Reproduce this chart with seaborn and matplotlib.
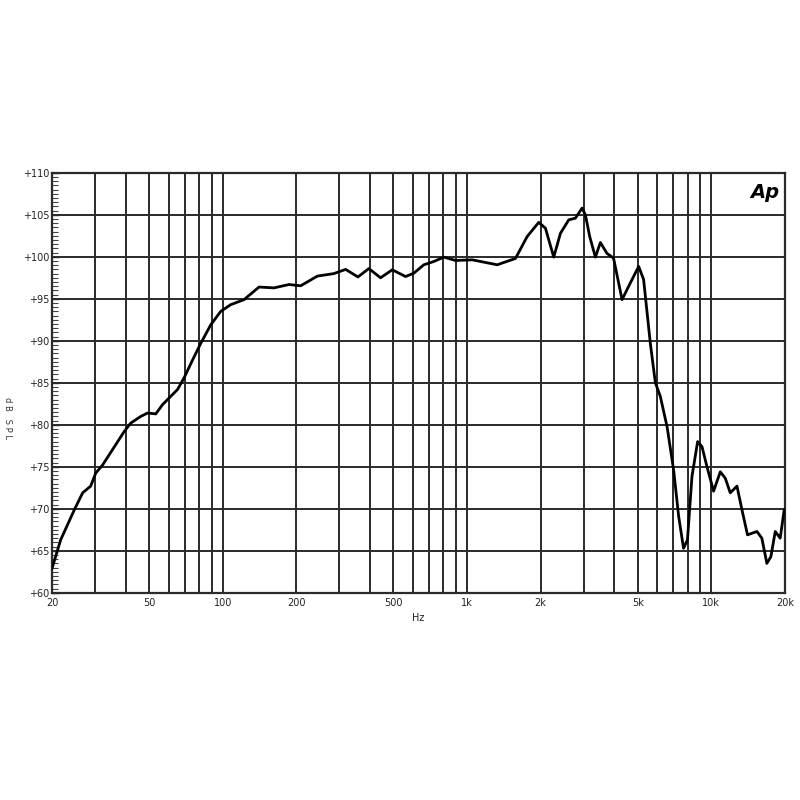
import numpy as np
import pandas as pd
import seaborn as sns
import matplotlib
matplotlib.use("Agg")
import matplotlib.pyplot as plt
from matplotlib.ticker import FixedLocator, MultipleLocator, NullFormatter

# Frequency response data
freq_hz = [20, 21.7, 24.7, 26.7, 28.8, 30.2, 32.2, 39.5, 42.0, 46.2, 49.2, 53.2,
           56.7, 61.3, 65.3, 69.5, 75.2, 81.3, 89.3, 98.1, 107.8, 122.2, 140.8,
           162.2, 186.7, 208.5, 243.8, 285, 318.6, 357.6, 396.5, 442.6, 494.2,
           560.6, 605.7, 665.7, 731.4, 803.8, 897.5, 1050, 1329, 1579, 1762,
           1966, 2095, 2265, 2413, 2610, 2779, 2958, 3052, 3180, 3354, 3516,
           3742, 3980, 4313, 4665, 5045, 5284, 5630, 5903, 6184, 6590, 7015,
           7353, 7700, 7990, 8336, 8794, 9162, 9606, 10220, 10890, 11410, 11960,
           12740, 13350, 14070, 15380, 16110, 16890, 17540, 18280, 19150, 19890]
spl_db = [62.9, 66.3, 69.9, 71.9, 72.7, 74.25, 75.2, 79.2, 80.2, 81.0, 81.4, 81.3,
          82.4, 83.4, 84.2, 85.6, 87.7, 89.7, 91.9, 93.5, 94.3, 94.9, 96.4,
          96.3, 96.7, 96.55, 97.7, 98.0, 98.5, 97.6, 98.6, 97.5, 98.45,
          97.65, 98.05, 99.05, 99.44, 99.96, 99.56, 99.64, 99.05, 99.8, 102.4,
          104.1, 103.4, 99.96, 102.8, 104.4, 104.6, 105.8, 105.0, 102.4, 99.96, 101.7,
          100.4, 99.85, 94.9, 96.9, 98.85, 97.3, 89.7, 85.0, 83.4, 79.8, 74.6,
          69.1, 65.3, 66.3, 73.85, 78.0, 77.4, 75.0, 72.1, 74.4, 73.65, 71.9,
          72.7, 69.9, 66.9, 67.3, 66.5, 63.5, 64.3, 67.3, 66.5, 69.9]

x_grid = [20, 30, 40, 50, 60, 70, 80, 90, 100, 200, 300, 400, 500, 600, 700, 800,
          900, 1000, 2000, 3000, 4000, 5000, 6000, 7000, 8000, 9000, 10000, 20000]
x_label_pos = [20, 50, 100, 200, 500, 1000, 2000, 5000, 10000, 20000]
x_label_txt = ["20", "50", "100", "200", "500", "1k", "2k", "5k", "10k", "20k"]
y_ticks = [60, 65, 70, 75, 80, 85, 90, 95, 100, 105, 110]
y_label_txt = ["+60", "+65", "+70", "+75", "+80", "+85", "+90", "+95", "+100", "+105", "+110"]

df = pd.DataFrame({"freq": freq_hz, "spl": spl_db})

sns.set_style("white")
plt.rcParams["font.family"] = ["DejaVu Sans"]

fig = plt.figure(figsize=(8, 8), dpi=100)
ax = fig.add_axes([0.065, 0.259, 0.916, 0.525])

ax.set_xscale("log")
ax.set_xlim(20, 20000)
ax.set_ylim(60, 110)

# grid
for xv in x_grid:
    ax.axvline(xv, color="#2a2a2a", lw=1.4, zorder=1)
for yv in y_ticks:
    ax.axhline(yv, color="#2a2a2a", lw=1.4, zorder=1)

sns.lineplot(data=df, x="freq", y="spl", ax=ax, color="black", lw=2.0,
             estimator=None, sort=False, zorder=3)
for ln in ax.lines:
    ln.set_solid_joinstyle("round")
    ln.set_solid_capstyle("round")

ax.xaxis.set_major_locator(FixedLocator(x_label_pos))
ax.xaxis.set_minor_locator(FixedLocator([]))
ax.set_xticklabels(x_label_txt)
ax.xaxis.set_minor_formatter(NullFormatter())
ax.set_yticks(y_ticks)
ax.set_yticklabels(y_label_txt)
ax.yaxis.set_minor_locator(MultipleLocator(0.5))

ax.tick_params(axis="x", which="both", bottom=False, length=0, labelsize=7, pad=4,
               colors="#222222")
ax.tick_params(axis="y", which="major", left=True, direction="in", length=5, width=1,
               labelsize=7, pad=2, colors="#222222")
ax.tick_params(axis="y", which="minor", left=True, direction="in", length=4, width=0.8,
               colors="#444444")

for s in ax.spines.values():
    s.set_color("#2a2a2a")
    s.set_linewidth(1.6)

ax.set_xlabel("Hz", fontsize=7, labelpad=3, color="#222222")
ax.set_ylabel("")
fig.text(0.009, 0.478, "d B   S P L", rotation=270, fontsize=6,
         ha="center", va="center", color="#333333")

ax.text(0.992, 0.975, "Ap", transform=ax.transAxes, ha="right", va="top",
        fontsize=14, fontweight="bold", fontstyle="italic", color="black")

fig.savefig("out.png", dpi=100, facecolor="white")
